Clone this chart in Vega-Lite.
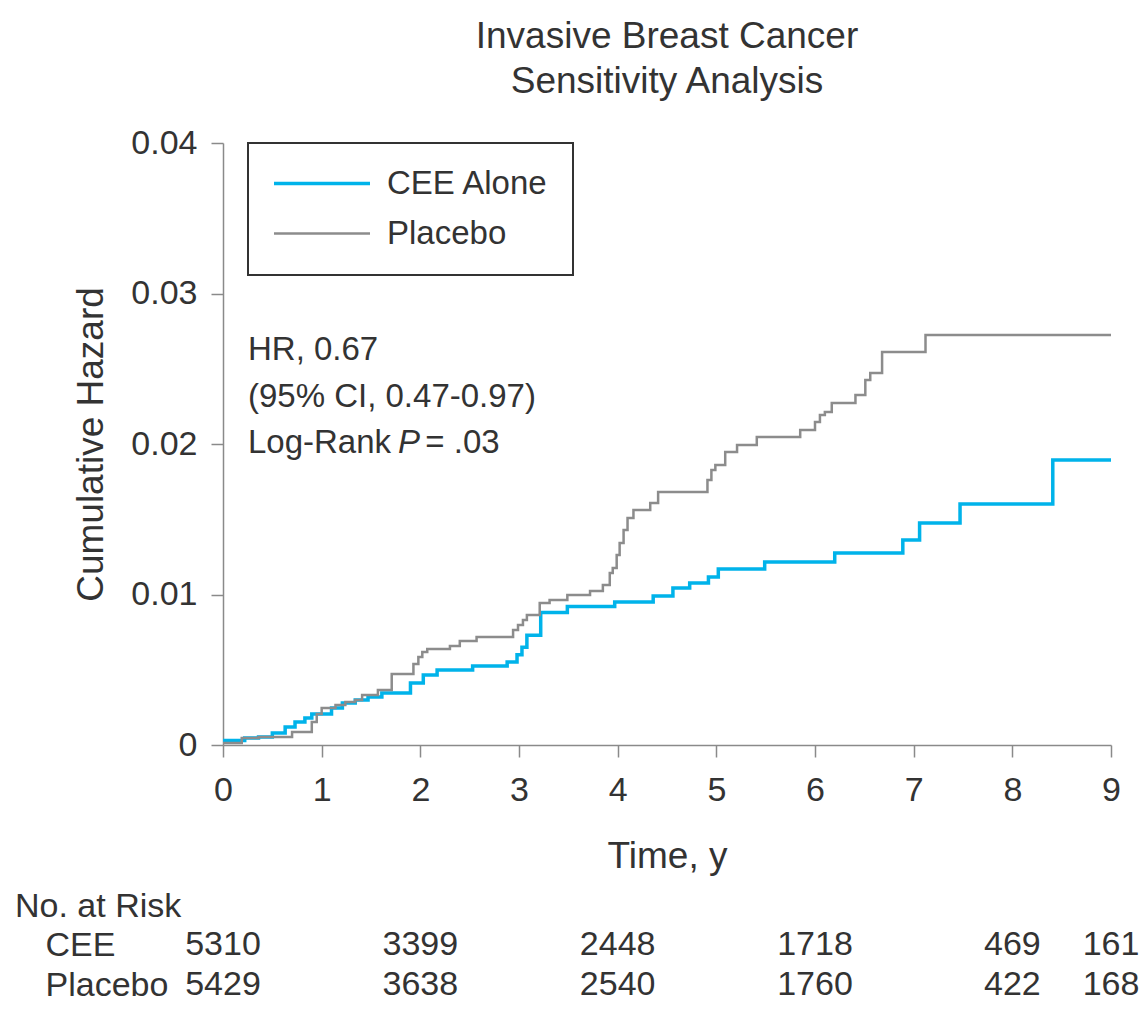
{
  "$schema": "https://vega.github.io/schema/vega-lite/v6.json",
  "padding": {"left": 15, "top": 18, "right": 5, "bottom": 5},
  "background": "white",
  "bounds": "flush",
  "spacing": 180,
  "config": {
    "font": "Liberation Sans",
    "view": {"stroke": null},
    "axis": {"domainColor": "#8a8a8a", "tickColor": "#8a8a8a", "labelColor": "#333333", "titleColor": "#333333", "titleFontWeight": "normal", "grid": false, "domainWidth": 1.5, "tickWidth": 1.5},
    "legend": {"strokeWidth": 2}
  },
  "datasets": {
    "km": [
      {"series": "CEE Alone", "t": 0, "v": 0.0003},
      {"series": "CEE Alone", "t": 0.22, "v": 0.00047},
      {"series": "CEE Alone", "t": 0.36, "v": 0.00053},
      {"series": "CEE Alone", "t": 0.5, "v": 0.0008},
      {"series": "CEE Alone", "t": 0.63, "v": 0.0012},
      {"series": "CEE Alone", "t": 0.73, "v": 0.00153},
      {"series": "CEE Alone", "t": 0.83, "v": 0.0018},
      {"series": "CEE Alone", "t": 0.9, "v": 0.00206},
      {"series": "CEE Alone", "t": 1.1, "v": 0.00246},
      {"series": "CEE Alone", "t": 1.21, "v": 0.00279},
      {"series": "CEE Alone", "t": 1.34, "v": 0.00299},
      {"series": "CEE Alone", "t": 1.47, "v": 0.00319},
      {"series": "CEE Alone", "t": 1.61, "v": 0.00346},
      {"series": "CEE Alone", "t": 1.9, "v": 0.00412},
      {"series": "CEE Alone", "t": 2.03, "v": 0.00465},
      {"series": "CEE Alone", "t": 2.17, "v": 0.00498},
      {"series": "CEE Alone", "t": 2.53, "v": 0.00525},
      {"series": "CEE Alone", "t": 2.88, "v": 0.00551},
      {"series": "CEE Alone", "t": 2.98, "v": 0.006},
      {"series": "CEE Alone", "t": 3.03, "v": 0.0065},
      {"series": "CEE Alone", "t": 3.08, "v": 0.0073},
      {"series": "CEE Alone", "t": 3.22, "v": 0.0088},
      {"series": "CEE Alone", "t": 3.49, "v": 0.0092},
      {"series": "CEE Alone", "t": 3.97, "v": 0.0095},
      {"series": "CEE Alone", "t": 4.36, "v": 0.0099},
      {"series": "CEE Alone", "t": 4.56, "v": 0.01043},
      {"series": "CEE Alone", "t": 4.73, "v": 0.01076},
      {"series": "CEE Alone", "t": 4.92, "v": 0.01116},
      {"series": "CEE Alone", "t": 5.02, "v": 0.01169},
      {"series": "CEE Alone", "t": 5.49, "v": 0.01216},
      {"series": "CEE Alone", "t": 6.2, "v": 0.01276},
      {"series": "CEE Alone", "t": 6.89, "v": 0.01362},
      {"series": "CEE Alone", "t": 7.06, "v": 0.01475},
      {"series": "CEE Alone", "t": 7.47, "v": 0.01601},
      {"series": "CEE Alone", "t": 8.41, "v": 0.01894},
      {"series": "CEE Alone", "t": 9.0, "v": 0.01894},
      {"series": "Placebo", "t": 0, "v": 0.00013},
      {"series": "Placebo", "t": 0.19, "v": 0.00047},
      {"series": "Placebo", "t": 0.36, "v": 0.00053},
      {"series": "Placebo", "t": 0.7, "v": 0.00086},
      {"series": "Placebo", "t": 0.9, "v": 0.00153},
      {"series": "Placebo", "t": 0.95, "v": 0.00206},
      {"series": "Placebo", "t": 1.0, "v": 0.00246},
      {"series": "Placebo", "t": 1.14, "v": 0.00266},
      {"series": "Placebo", "t": 1.24, "v": 0.00286},
      {"series": "Placebo", "t": 1.34, "v": 0.00299},
      {"series": "Placebo", "t": 1.41, "v": 0.00332},
      {"series": "Placebo", "t": 1.57, "v": 0.00365},
      {"series": "Placebo", "t": 1.71, "v": 0.00472},
      {"series": "Placebo", "t": 1.93, "v": 0.00538},
      {"series": "Placebo", "t": 1.98, "v": 0.00585},
      {"series": "Placebo", "t": 2.02, "v": 0.00618},
      {"series": "Placebo", "t": 2.07, "v": 0.00638},
      {"series": "Placebo", "t": 2.3, "v": 0.00658},
      {"series": "Placebo", "t": 2.4, "v": 0.00691},
      {"series": "Placebo", "t": 2.57, "v": 0.00718},
      {"series": "Placebo", "t": 2.94, "v": 0.00764},
      {"series": "Placebo", "t": 2.99, "v": 0.00797},
      {"series": "Placebo", "t": 3.04, "v": 0.00831},
      {"series": "Placebo", "t": 3.08, "v": 0.00864},
      {"series": "Placebo", "t": 3.21, "v": 0.00944},
      {"series": "Placebo", "t": 3.31, "v": 0.00963},
      {"series": "Placebo", "t": 3.49, "v": 0.00997},
      {"series": "Placebo", "t": 3.72, "v": 0.01023},
      {"series": "Placebo", "t": 3.85, "v": 0.01063},
      {"series": "Placebo", "t": 3.92, "v": 0.01143},
      {"series": "Placebo", "t": 3.95, "v": 0.01176},
      {"series": "Placebo", "t": 3.99, "v": 0.01262},
      {"series": "Placebo", "t": 4.02, "v": 0.01342},
      {"series": "Placebo", "t": 4.06, "v": 0.01429},
      {"series": "Placebo", "t": 4.1, "v": 0.01508},
      {"series": "Placebo", "t": 4.16, "v": 0.01561},
      {"series": "Placebo", "t": 4.33, "v": 0.01608},
      {"series": "Placebo", "t": 4.41, "v": 0.01681},
      {"series": "Placebo", "t": 4.91, "v": 0.01761},
      {"series": "Placebo", "t": 4.95, "v": 0.01827},
      {"series": "Placebo", "t": 4.99, "v": 0.0186},
      {"series": "Placebo", "t": 5.09, "v": 0.01947},
      {"series": "Placebo", "t": 5.21, "v": 0.01993},
      {"series": "Placebo", "t": 5.41, "v": 0.02047},
      {"series": "Placebo", "t": 5.85, "v": 0.02093},
      {"series": "Placebo", "t": 6.0, "v": 0.02146},
      {"series": "Placebo", "t": 6.05, "v": 0.02193},
      {"series": "Placebo", "t": 6.1, "v": 0.02213},
      {"series": "Placebo", "t": 6.17, "v": 0.02272},
      {"series": "Placebo", "t": 6.41, "v": 0.02326},
      {"series": "Placebo", "t": 6.51, "v": 0.02425},
      {"series": "Placebo", "t": 6.56, "v": 0.02472},
      {"series": "Placebo", "t": 6.68, "v": 0.02611},
      {"series": "Placebo", "t": 7.12, "v": 0.02724},
      {"series": "Placebo", "t": 9.0, "v": 0.02724}
    ],
    "ann": [
      {"t": 0.253, "v": 0.02625, "label": "HR, 0.67", "style": "normal"},
      {"t": 0.253, "v": 0.02312, "label": "(95% CI, 0.47-0.97)", "style": "normal"},
      {"t": 0.253, "v": 0.02007, "label": "Log-Rank", "style": "normal"},
      {"t": 1.774, "v": 0.02007, "label": "P", "style": "italic"},
      {"t": 2.05, "v": 0.02007, "label": "= .03", "style": "normal"}
    ],
    "risk": [
      {"group": "CEE", "t": 0, "n": 5310},
      {"group": "CEE", "t": 2, "n": 3399},
      {"group": "CEE", "t": 4, "n": 2448},
      {"group": "CEE", "t": 6, "n": 1718},
      {"group": "CEE", "t": 8, "n": 469},
      {"group": "CEE", "t": 9, "n": 161},
      {"group": "Placebo", "t": 0, "n": 5429},
      {"group": "Placebo", "t": 2, "n": 3638},
      {"group": "Placebo", "t": 4, "n": 2540},
      {"group": "Placebo", "t": 6, "n": 1760},
      {"group": "Placebo", "t": 8, "n": 422},
      {"group": "Placebo", "t": 9, "n": 168}
    ]
  },
  "vconcat": [
    {
      "width": 888,
      "height": 602,
      "title": {"text": ["Invasive Breast Cancer", "Sensitivity Analysis"], "fontSize": 37, "fontWeight": "normal", "color": "#333333", "lineHeight": 45, "anchor": "middle", "frame": "group", "offset": -12, "baseline": "bottom"},
      "layer": [
        {
          "data": {"name": "km"},
          "mark": {"type": "line", "interpolate": "step-after"},
          "encoding": {
            "x": {"field": "t", "type": "quantitative", "scale": {"domain": [0, 9], "nice": false, "zero": false},
              "axis": {"values": [0, 1, 2, 3, 4, 5, 6, 7, 8, 9], "format": "d", "title": "Time, y", "labelFontSize": 34, "titleFontSize": 37, "tickSize": 12, "labelPadding": 16, "titlePadding": 31, "labelFlush": false}},
            "y": {"field": "v", "type": "quantitative", "scale": {"domain": [0, 0.04], "nice": false},
              "axis": {"values": [0, 0.01, 0.02, 0.03, 0.04], "format": ".2~f", "title": "Cumulative Hazard", "labelFontSize": 34, "titleFontSize": 37, "tickSize": 12, "labelPadding": 14, "titlePadding": 20}},
            "color": {"field": "series", "type": "nominal", "scale": {"domain": ["CEE Alone", "Placebo"], "range": ["#00B3EA", "#8C8C8C"]},
              "legend": {"title": null, "orient": "none", "legendX": 25, "legendY": 0, "strokeColor": "#333333", "padding": 24, "symbolType": "stroke", "symbolSize": 9216, "clipHeight": 33, "labelFontSize": 33, "labelColor": "#333333", "labelOffset": 15, "labelLimit": 400, "rowPadding": 16}},
            "strokeWidth": {"field": "series", "type": "ordinal", "scale": {"domain": ["CEE Alone", "Placebo"], "range": [3.5, 2.5]}, "legend": null}
          }
        },
        {
          "data": {"name": "ann"},
          "transform": [{"filter": "datum.style === 'normal'"}],
          "mark": {"type": "text", "align": "left", "baseline": "middle", "fontSize": 33, "color": "#333333"},
          "encoding": {
            "x": {"field": "t", "type": "quantitative"},
            "y": {"field": "v", "type": "quantitative"},
            "text": {"field": "label"}
          }
        },
        {
          "data": {"name": "ann"},
          "transform": [{"filter": "datum.style === 'italic'"}],
          "mark": {"type": "text", "align": "left", "baseline": "middle", "fontSize": 33, "fontStyle": "italic", "color": "#333333"},
          "encoding": {
            "x": {"field": "t", "type": "quantitative"},
            "y": {"field": "v", "type": "quantitative"},
            "text": {"field": "label"}
          }
        }
      ]
    },
    {
      "width": 888,
      "height": 80,
      "title": {"text": "No. at Risk", "fontSize": 34, "fontWeight": "normal", "color": "#333333", "anchor": "start", "frame": "group", "dx": -208, "offset": -33, "baseline": "bottom"},
      "data": {"name": "risk"},
      "mark": {"type": "text", "align": "center", "baseline": "middle", "fontSize": 34, "color": "#333333"},
      "encoding": {
        "x": {"field": "t", "type": "quantitative", "scale": {"domain": [0, 9], "nice": false, "zero": false}, "axis": null},
        "y": {"field": "group", "type": "nominal", "scale": {"domain": ["CEE", "Placebo"]},
          "axis": {"title": null, "labelAlign": "left", "labelPadding": 178, "ticks": false, "domain": false, "labelFontSize": 34, "labelColor": "#333333"}},
        "text": {"field": "n", "type": "quantitative", "format": "d"}
      }
    }
  ]
}
